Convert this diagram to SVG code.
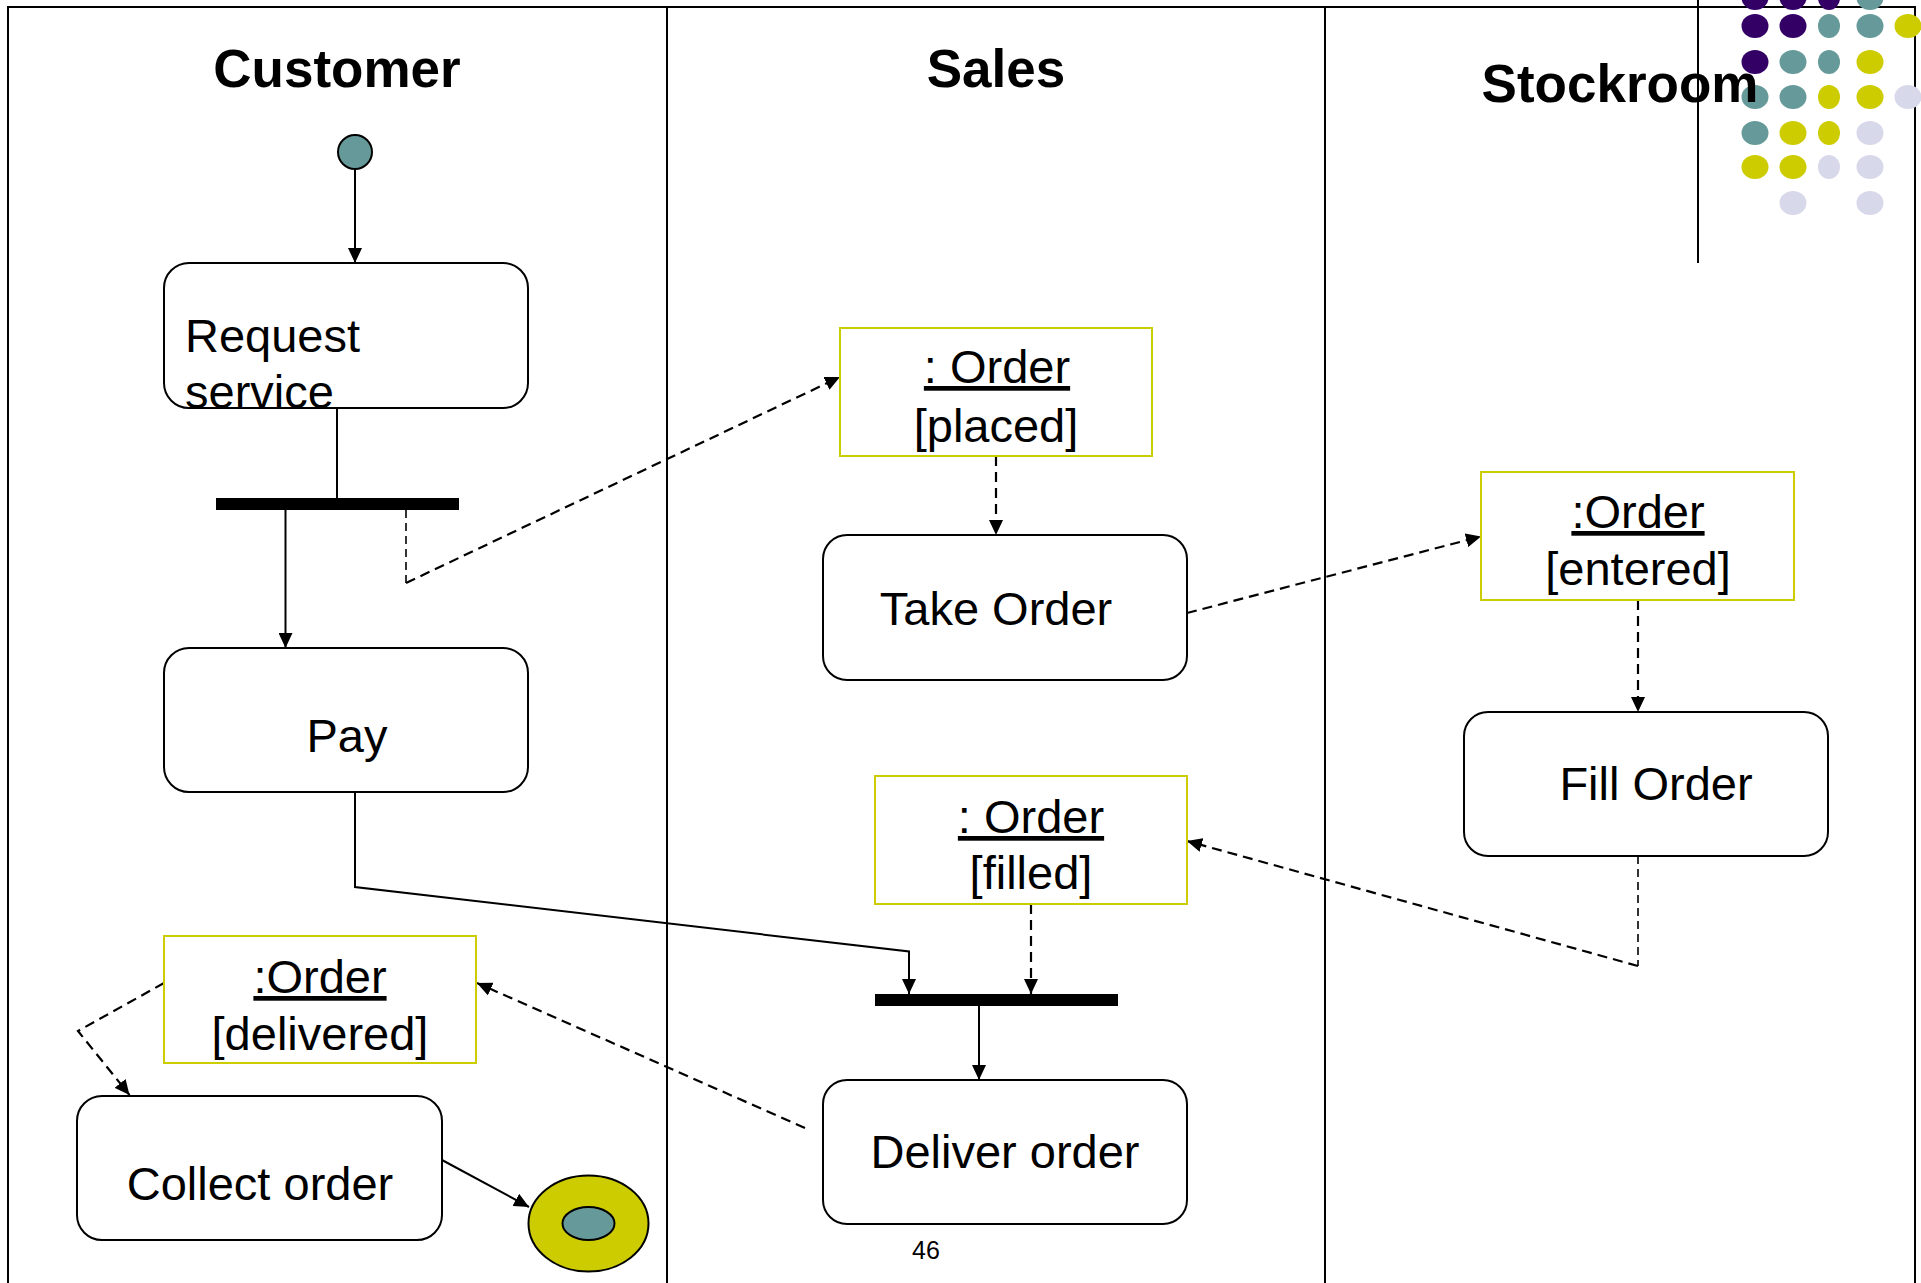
<svg xmlns="http://www.w3.org/2000/svg" width="1921" height="1283" viewBox="0 0 1921 1283">
<style>
.frame{stroke:#000;stroke-width:2;fill:none}
.act{fill:#fff;stroke:#000;stroke-width:2}
.obj{fill:#fff;stroke:#CCCC00;stroke-width:2}
.bar{fill:#000}
.lbl{font-family:"Liberation Sans",Arial,sans-serif;font-size:47px;fill:#000}
.ttl{font-family:"Liberation Sans",Arial,sans-serif;font-size:53px;font-weight:bold;fill:#000;text-anchor:middle}
.mid{text-anchor:middle}
.u{text-decoration:underline}
.sol{stroke:#000;stroke-width:2;fill:none}
.dash{stroke:#000;stroke-width:2.2;fill:none;stroke-dasharray:10 6}
.dthin{stroke:#000;stroke-width:1.6;fill:none;stroke-dasharray:8 5}
.pu{fill:#330066}.te{fill:#669999}.ye{fill:#CCCC00}.la{fill:#D8D8EB}
</style>
<defs>
<marker id="ah" markerUnits="userSpaceOnUse" markerWidth="16" markerHeight="14" refX="15" refY="7" orient="auto">
<path d="M0,0 L15,7 L0,14 z" fill="#000"/>
</marker>
</defs>
<rect width="1921" height="1283" fill="#fff"/>
<g id="frame">
<path class="frame" d="M8,1283 V7 H1915 V1283"/>
<line class="frame" x1="667" y1="7" x2="667" y2="1283"/>
<line class="frame" x1="1325" y1="7" x2="1325" y2="1283"/>
<line class="frame" x1="1698" y1="0" x2="1698" y2="263"/>
</g>
<g id="dots">
<ellipse class="pu" cx="1755" cy="-2" rx="13.5" ry="12"/>
<ellipse class="pu" cx="1793" cy="-2" rx="13.5" ry="12"/>
<ellipse class="pu" cx="1829" cy="-2" rx="11" ry="12"/>
<ellipse class="te" cx="1870" cy="-2" rx="13.5" ry="12"/>
<ellipse class="pu" cx="1755" cy="26" rx="13.5" ry="12"/>
<ellipse class="pu" cx="1793" cy="26" rx="13.5" ry="12"/>
<ellipse class="te" cx="1829" cy="26" rx="11" ry="12"/>
<ellipse class="te" cx="1870" cy="26" rx="13.5" ry="12"/>
<ellipse class="ye" cx="1908" cy="26" rx="13.5" ry="12"/>
<ellipse class="pu" cx="1755" cy="62" rx="13.5" ry="12"/>
<ellipse class="te" cx="1793" cy="62" rx="13.5" ry="12"/>
<ellipse class="te" cx="1829" cy="62" rx="11" ry="12"/>
<ellipse class="ye" cx="1870" cy="62" rx="13.5" ry="12"/>
<ellipse class="te" cx="1755" cy="97" rx="13.5" ry="12"/>
<ellipse class="te" cx="1793" cy="97" rx="13.5" ry="12"/>
<ellipse class="ye" cx="1829" cy="97" rx="11" ry="12"/>
<ellipse class="ye" cx="1870" cy="97" rx="13.5" ry="12"/>
<ellipse class="la" cx="1908" cy="97" rx="13.5" ry="12"/>
<ellipse class="te" cx="1755" cy="133" rx="13.5" ry="12"/>
<ellipse class="ye" cx="1793" cy="133" rx="13.5" ry="12"/>
<ellipse class="ye" cx="1829" cy="133" rx="11" ry="12"/>
<ellipse class="la" cx="1870" cy="133" rx="13.5" ry="12"/>
<ellipse class="ye" cx="1755" cy="167" rx="13.5" ry="12"/>
<ellipse class="ye" cx="1793" cy="167" rx="13.5" ry="12"/>
<ellipse class="la" cx="1829" cy="167" rx="11" ry="12"/>
<ellipse class="la" cx="1870" cy="167" rx="13.5" ry="12"/>
<ellipse class="la" cx="1793" cy="203" rx="13.5" ry="12"/>
<ellipse class="la" cx="1870" cy="203" rx="13.5" ry="12"/>
</g>
<g id="titles">
<text class="ttl" x="337" y="87">Customer</text>
<text class="ttl" x="996" y="87">Sales</text>
<text class="ttl" x="1620" y="102">Stockroom</text>
</g>
<g id="connectors">
<line class="sol" x1="355" y1="169" x2="355" y2="263" marker-end="url(#ah)"/>
<line class="sol" x1="337" y1="408" x2="337" y2="498" stroke-width="1.5"/>
<line class="sol" x1="285.5" y1="510" x2="285.5" y2="648" marker-end="url(#ah)"/>
<polyline class="dthin" points="406,510 406,583" />
<line class="dash" x1="406" y1="583" x2="840" y2="377" marker-end="url(#ah)"/>
<line class="dash" x1="996" y1="456" x2="996" y2="535" marker-end="url(#ah)"/>
<line class="dash" x1="1187" y1="613" x2="1481" y2="536.5" marker-end="url(#ah)"/>
<line class="dash" x1="1638" y1="600" x2="1638" y2="712" marker-end="url(#ah)"/>
<polyline class="dthin" points="1638,856 1638,966"/>
<line class="dash" x1="1638" y1="966" x2="1187" y2="841" marker-end="url(#ah)"/>
<line class="dash" x1="1031" y1="904" x2="1031" y2="994" marker-end="url(#ah)"/>
<polyline class="sol" points="355,792 355,887 909,951.5 909,994" marker-end="url(#ah)"/>
<line class="sol" x1="979" y1="1006" x2="979" y2="1080" marker-end="url(#ah)"/>
<line class="dash" x1="805" y1="1128" x2="477" y2="983" marker-end="url(#ah)"/>
<polyline class="dash" points="164,983 78,1031 129.5,1095" marker-end="url(#ah)"/>
<line class="sol" x1="442" y1="1160" x2="529" y2="1207" marker-end="url(#ah)"/>
</g>
<g id="initial">
<circle cx="355" cy="152" r="17" fill="#669999" stroke="#000" stroke-width="2"/>
</g>
<g id="request-service">
<rect class="act" x="164" y="263" width="364" height="145" rx="25"/>
<text class="lbl" x="185" y="352">Request</text>
<text class="lbl" x="185" y="408">service</text>
</g>
<g id="fork">
<rect class="bar" x="216" y="498" width="243" height="12"/>
</g>
<g id="pay">
<rect class="act" x="164" y="648" width="364" height="144" rx="25"/>
<text class="lbl mid" x="347" y="752">Pay</text>
</g>
<g id="order-placed">
<rect class="obj" x="840" y="328" width="312" height="128"/>
<text class="lbl mid u" x="997" y="383">: Order</text>
<text class="lbl mid" x="996" y="442">[placed]</text>
</g>
<g id="take-order">
<rect class="act" x="823" y="535" width="364" height="145" rx="24"/>
<text class="lbl mid" x="996" y="625">Take Order</text>
</g>
<g id="order-entered">
<rect class="obj" x="1481" y="472" width="313" height="128"/>
<text class="lbl mid u" x="1638" y="528">:Order</text>
<text class="lbl mid" x="1638" y="585">[entered]</text>
</g>
<g id="fill-order">
<rect class="act" x="1464" y="712" width="364" height="144" rx="24"/>
<text class="lbl mid" x="1656" y="800">Fill Order</text>
</g>
<g id="order-filled">
<rect class="obj" x="875" y="776" width="312" height="128"/>
<text class="lbl mid u" x="1031" y="833">: Order</text>
<text class="lbl mid" x="1031" y="889">[filled]</text>
</g>
<g id="join">
<rect class="bar" x="875" y="994" width="243" height="12"/>
</g>
<g id="deliver-order">
<rect class="act" x="823" y="1080" width="364" height="144" rx="24"/>
<text class="lbl mid" x="1005" y="1168">Deliver order</text>
</g>
<g id="order-delivered">
<rect class="obj" x="164" y="936" width="312" height="127"/>
<text class="lbl mid u" x="320" y="993">:Order</text>
<text class="lbl mid" x="320" y="1050">[delivered]</text>
</g>
<g id="collect-order">
<rect class="act" x="77" y="1096" width="365" height="144" rx="25"/>
<text class="lbl mid" x="260" y="1200">Collect order</text>
</g>
<g id="final">
<ellipse cx="588.5" cy="1223.5" rx="60" ry="48" fill="#CCCC00" stroke="#000" stroke-width="2"/>
<ellipse cx="588.5" cy="1223.5" rx="26" ry="16.5" fill="#669999" stroke="#000" stroke-width="2"/>
</g>
<text x="926" y="1259" font-family="Liberation Sans, Arial, sans-serif" font-size="25" text-anchor="middle">46</text>
</svg>
